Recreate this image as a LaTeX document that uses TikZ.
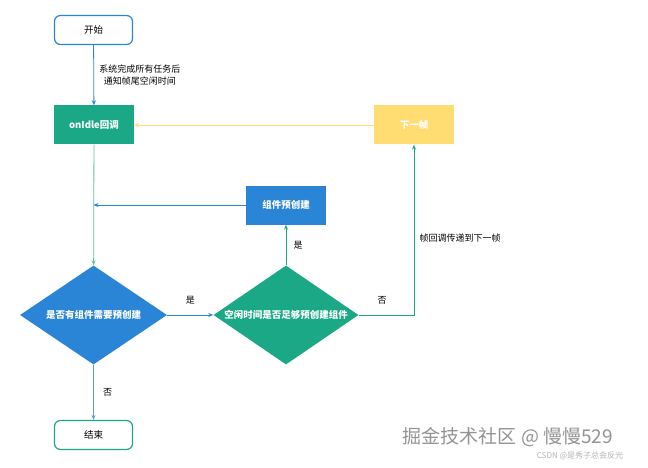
\documentclass[tikz,border=0pt]{standalone}
\usepackage{fontspec}
\setmainfont{Noto Sans CJK SC}
\usetikzlibrary{shapes.geometric,arrows.meta}
\definecolor{myblue}{HTML}{2A85D6}
\definecolor{myteal}{HTML}{1BA886}
\definecolor{myyellow}{HTML}{FFDD73}
\begin{document}
\begin{tikzpicture}[x=1pt,y=-1pt,font=\fontsize{9.5}{11}\selectfont,
  term/.style={draw,line width=1.2pt,rounded corners=6pt,minimum width=78pt,minimum height=29pt,fill=white,text=black},
  box/.style={minimum width=80pt,minimum height=39pt,text=white,font=\fontsize{9.5}{11}\selectfont\bfseries},
  dia/.style={diamond,aspect=1.47,inner sep=0pt,minimum height=99pt,text=white,font=\fontsize{9.5}{11}\selectfont\bfseries},
  arr/.style={-{Stealth[length=5pt,width=4pt]},line width=0.8pt},
  lbl/.style={font=\fontsize{9}{12}\selectfont,text=black}]
\useasboundingbox (0,0) rectangle (648,468);
\node[term,draw=myblue] (start) at (93.5,30) {开始};
\node[box,fill=myteal] (idle) at (94,125) {onIdle回调};
\node[box,fill=myyellow] (next) at (414,125) {下一帧};
\node[box,fill=myblue] (pre) at (286,205) {组件预创建};
\node[dia,fill=myblue,minimum width=147pt] (d1) at (93.5,315) {是否有组件需要预创建};
\node[dia,fill=myteal,minimum width=145pt] (d2) at (286,315) {空闲时间是否足够预创建组件};
\node[term,draw=myteal] (end) at (93.5,435) {结束};
\coordinate (j) at (93.5,205);
\coordinate (c) at (414,315);
\draw[arr,myblue] (start) -- node[right,lbl,align=center,xshift=2pt]{系统完成所有任务后\\通知帧尾空闲时间} (idle);
\draw[arr,myteal!70] (idle) -- (d1);
\draw[arr,myblue] (pre) -- (j);
\draw[arr,myblue] (d1) -- node[above,lbl,yshift=7pt]{是} (d2);
\draw[arr,myteal] (d2) -- node[right,lbl,xshift=4pt]{是} (pre);
\draw[arr,myteal] (d2.east) -- (c) -- node[right,lbl,pos=0.45,xshift=2pt]{帧回调传递到下一帧} (next);
\node[lbl] at (382,300) {否};
\draw[arr,myyellow] (next) -- (idle);
\draw[arr,myblue!80] (d1) -- node[right,lbl,xshift=6pt]{否} (end);
\node[text=gray!85,font=\fontsize{19}{22}\selectfont] (wm) at (508,437) {掘金技术社区 @ 慢慢529};
\node[text=gray!60,font=\fontsize{8}{9}\selectfont] (wm2) at (580,456) {CSDN @是秀子总会反光};
\end{tikzpicture}
\end{document}
